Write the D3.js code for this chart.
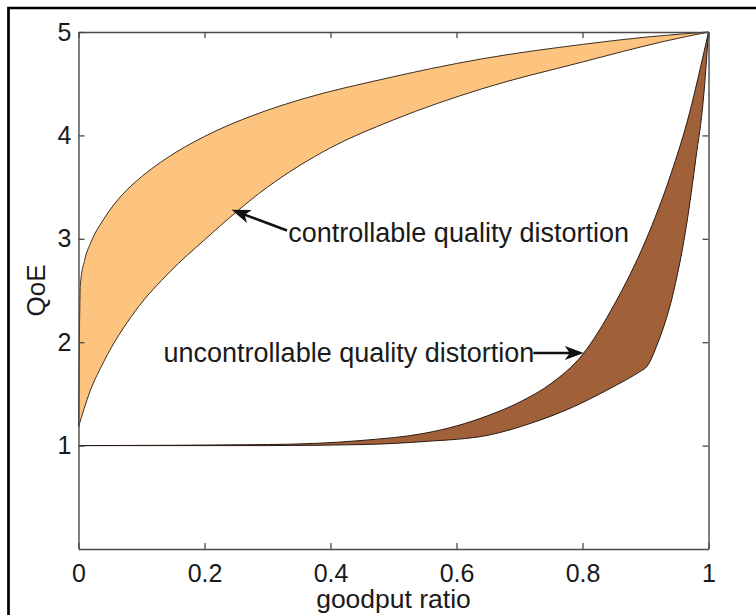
<!DOCTYPE html>
<html>
<head>
<meta charset="utf-8">
<script src="https://cdn.jsdelivr.net/npm/d3@7"></script>
<style>
  body { margin: 0; background: #fff; }
  svg { display: block; font-family: Arial, "Liberation Sans", Helvetica, sans-serif; }
</style>
</head>
<body>
<svg id="chart"></svg>
<script>
// tick values
const xTicks = [0, 0.2, 0.4, 0.6, 0.8, 1];
const yTicks = [1, 2, 3, 4, 5];

// controllable quality distortion band (upper / lower edge), goodput ratio vs QoE
const ctrlUpperX = [0, 0.003, 0.01, 0.02, 0.04, 0.07, 0.1, 0.14, 0.2, 0.28, 0.36, 0.48, 0.64, 0.8, 0.9, 1];
const ctrlUpperQ = [1.18, 2.56, 2.8, 2.97, 3.19, 3.43, 3.6, 3.78, 3.99, 4.2, 4.36, 4.54, 4.74, 4.88, 4.95, 5];
const ctrlLowerX = [0, 0.018, 0.04, 0.09, 0.145, 0.2, 0.3, 0.4, 0.5, 0.64, 0.8, 0.93, 1];
const ctrlLowerQ = [1.18, 1.52, 1.81, 2.3, 2.68, 2.99, 3.5, 3.88, 4.15, 4.45, 4.71, 4.91, 5];

// uncontrollable quality distortion band
const uncUpperX = [0, 0.3, 0.45, 0.55, 0.6, 0.65, 0.7, 0.75, 0.8, 0.85, 0.9, 0.94, 0.97, 0.987, 1];
const uncUpperQ = [1, 1.01, 1.05, 1.12, 1.19, 1.29, 1.42, 1.6, 1.88, 2.36, 2.98, 3.62, 4.22, 4.65, 5];
const uncLowerX = [0, 0.3, 0.45, 0.55, 0.65, 0.72, 0.78, 0.84, 0.895, 0.9, 0.92, 0.945, 0.965, 0.98, 0.992, 1];
const uncLowerQ = [1, 1.0, 1.01, 1.04, 1.1, 1.22, 1.36, 1.54, 1.73, 1.75, 2.0, 2.5, 3.13, 3.78, 4.36, 5];

const W = 756, H = 615;
const plot = { left: 78.5, right: 708.5, top: 32, bottom: 549 };

const svg = d3.select("#chart")
  .attr("width", W)
  .attr("height", H)
  .attr("viewBox", [0, 0, W, H]);

// outer frame (left + top only, rest is cut off)
svg.append("path")
  .attr("d", `M8.5,${H} L8.5,8 L${W},8`)
  .attr("fill", "none")
  .attr("stroke", "#000")
  .attr("stroke-width", 2.7);

const x = d3.scaleLinear().domain([0, 1]).range([plot.left, plot.right]);
const y = d3.scaleLinear().domain([0, 5]).range([plot.bottom, plot.top]);

const line = d3.line().curve(d3.curveMonotoneX);

function band(ux, uq, lx, lq) {
  const up = ux.map((g, i) => [x(g), y(uq[i])]);
  const lo = lx.map((g, i) => [x(g), y(lq[i])]).reverse();
  return line(up) + "L" + line(lo).slice(1) + "Z";
}

svg.append("path")
  .attr("d", band(ctrlUpperX, ctrlUpperQ, ctrlLowerX, ctrlLowerQ))
  .attr("fill", "#fdc47f")
  .attr("stroke", "#3a2c1e")
  .attr("stroke-width", 1);

svg.append("path")
  .attr("d", band(uncUpperX, uncUpperQ, uncLowerX, uncLowerQ))
  .attr("fill", "#a0603a")
  .attr("stroke", "#2a1a10")
  .attr("stroke-width", 1);

// axes, ticks pointing inwards (box on)
const axisColor = "#4a4a4a";
function styleAxis(g) {
  g.select(".domain").attr("stroke", axisColor).attr("stroke-width", 1.4);
  g.selectAll(".tick line").attr("stroke", axisColor).attr("stroke-width", 1.3);
  g.selectAll(".tick text").attr("fill", "#1a1a1a").attr("font-size", 25)
    .attr("font-family", "Arial, 'Liberation Sans', Helvetica, sans-serif");
}

svg.append("g")
  .attr("transform", `translate(0,${plot.bottom})`)
  .call(d3.axisBottom(x).tickValues(xTicks).tickFormat(d3.format("~g"))
    .tickSizeInner(-6).tickSizeOuter(0).tickPadding(15))
  .call(styleAxis);

svg.append("g")
  .attr("transform", `translate(0,${plot.top})`)
  .call(d3.axisTop(x).tickValues(xTicks).tickFormat("")
    .tickSizeInner(-6).tickSizeOuter(0))
  .call(styleAxis);

svg.append("g")
  .attr("transform", `translate(${plot.left},0)`)
  .call(d3.axisLeft(y).tickValues(yTicks).tickFormat(d3.format("d"))
    .tickSizeInner(-6).tickSizeOuter(0).tickPadding(7))
  .call(styleAxis);

svg.append("g")
  .attr("transform", `translate(${plot.right},0)`)
  .call(d3.axisRight(y).tickValues(yTicks).tickFormat("")
    .tickSizeInner(-6).tickSizeOuter(0))
  .call(styleAxis);

// axis titles
svg.append("text")
  .attr("x", (plot.left + plot.right) / 2)
  .attr("y", 608)
  .attr("text-anchor", "middle")
  .attr("font-size", 26.5)
  .attr("fill", "#1a1a1a")
  .text("goodput ratio");

svg.append("text")
  .attr("transform", `translate(45,${(plot.top + plot.bottom) / 2}) rotate(-90)`)
  .attr("text-anchor", "middle")
  .attr("font-size", 26)
  .attr("fill", "#1a1a1a")
  .text("QoE");

// annotations with arrows
function arrow(g0, q0, g1, q1) {
  const x0 = x(g0), y0 = y(q0), x1 = x(g1), y1 = y(q1);
  const a = Math.atan2(y1 - y0, x1 - x0);
  svg.append("line")
    .attr("x1", x0).attr("y1", y0)
    .attr("x2", x1 - 13 * Math.cos(a)).attr("y2", y1 - 13 * Math.sin(a))
    .attr("stroke", "#111").attr("stroke-width", 2.6);
  svg.append("path")
    .attr("transform", `translate(${x1},${y1}) rotate(${a * 180 / Math.PI})`)
    .attr("d", "M0,0L-19,-7L-14,0L-19,7Z")
    .attr("fill", "#111");
}

svg.append("text")
  .attr("x", x(0.333)).attr("y", y(2.97))
  .attr("font-size", 27).attr("fill", "#1a1a1a")
  .text("controllable quality distortion");
arrow(0.331, 3.08, 0.243, 3.28);

svg.append("text")
  .attr("x", x(0.135)).attr("y", y(1.81))
  .attr("font-size", 27).attr("fill", "#1a1a1a")
  .text("uncontrollable quality distortion");
arrow(0.722, 1.895, 0.802, 1.895);
</script>
</body>
</html>
